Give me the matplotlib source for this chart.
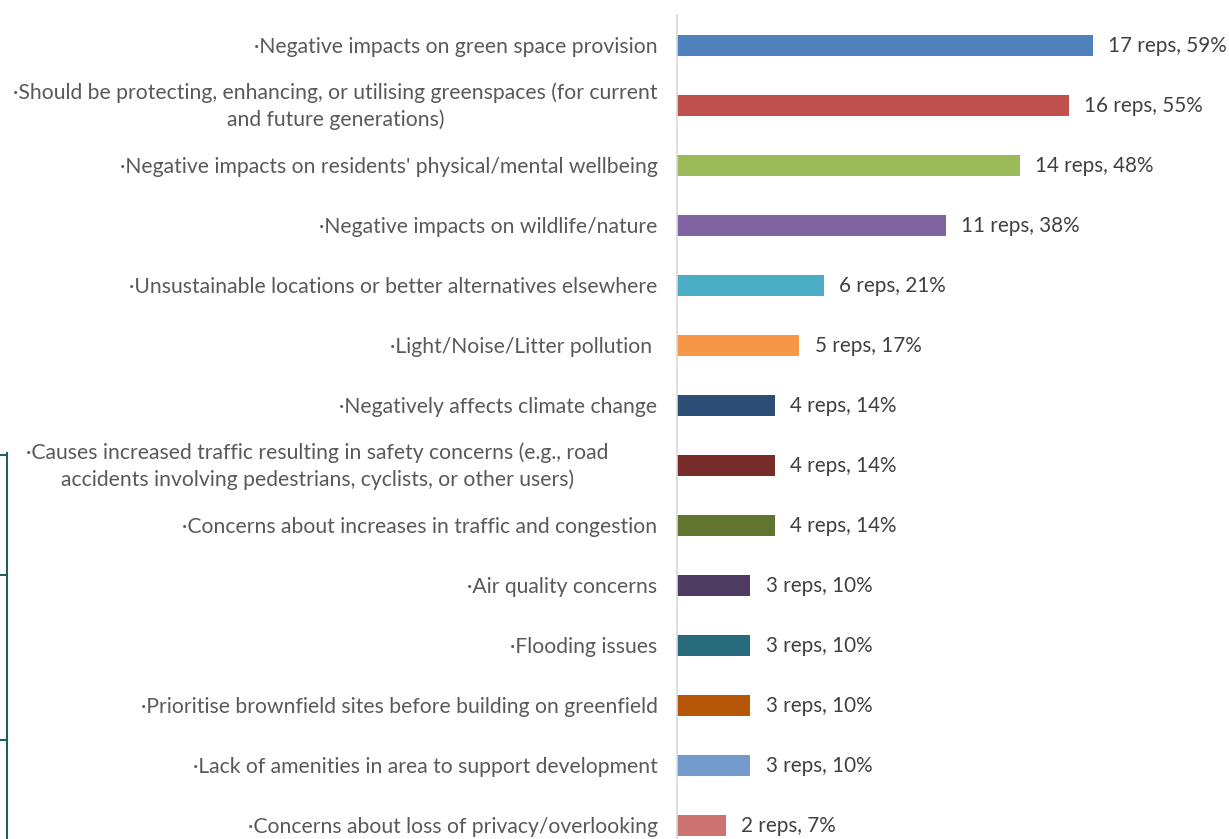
import matplotlib
matplotlib.use("Agg")
import matplotlib.pyplot as plt
from matplotlib.transforms import ScaledTranslation
from matplotlib.lines import Line2D

plt.rcParams['font.family'] = ['Lato', 'DejaVu Sans']

categories = [
    "·Negative impacts on green space provision",
    "·Should be protecting, enhancing, or utilising greenspaces (for current\nand future generations)",
    "·Negative impacts on residents' physical/mental wellbeing",
    "·Negative impacts on wildlife/nature",
    "·Unsustainable locations or better alternatives elsewhere",
    "·Light/Noise/Litter pollution ",
    "·Negatively affects climate change",
    "·Causes increased traffic resulting in safety concerns (e.g., road\naccidents involving pedestrians, cyclists, or other users)",
    "·Concerns about increases in traffic and congestion",
    "·Air quality concerns",
    "·Flooding issues",
    "·Prioritise brownfield sites before building on greenfield",
    "·Lack of amenities in area to support development",
    "·Concerns about loss of privacy/overlooking",
]
reps = [17, 16, 14, 11, 6, 5, 4, 4, 4, 3, 3, 3, 3, 2]
percents = [59, 55, 48, 38, 21, 17, 14, 14, 14, 10, 10, 10, 10, 7]
colors = ["#4F81BD", "#C0504D", "#9BBB59", "#8064A2", "#4BACC6", "#F79646",
          "#2C4D75", "#772C2A", "#5F7530", "#4D3B62", "#276A7C", "#B65708",
          "#729ACA", "#CD7371"]

W, H = 1229, 839
fig = plt.figure(figsize=(W / 100, H / 100), dpi=100)
ax = fig.add_axes([677 / W, 0, 1 - 677 / W, 824 / H])

ypos = list(range(len(categories)))
ax.barh(ypos, reps, height=0.35, color=colors)
ax.set_ylim(len(categories) - 1 + 0.233, -0.5)
ax.set_xlim(0, (W - 677) / 24.47)

fs = 15.2
for y, r, p in zip(ypos, reps, percents):
    ax.annotate(f"{r} reps, {p}%", xy=(r, y), xytext=(11, -1), textcoords="offset points",
                va="center", ha="left", fontsize=14.9, color="#404040")

ax.set_yticks(ypos)
ax.set_yticklabels(categories, fontsize=fs, color="#595959", multialignment="center",
                   linespacing=1.4)
ax.tick_params(axis="y", length=0, pad=14)
ax.set_xticks([])
for s in ["top", "right", "bottom"]:
    ax.spines[s].set_visible(False)
ax.spines["left"].set_color("#D9D9D9")
ax.spines["left"].set_linewidth(1.2)

for lab in ax.get_yticklabels():
    txt = lab.get_text()
    dx = -0.49 if txt.startswith("·Causes") else 0.0
    dy = 0.04 if "\n" in txt else 0.0
    if dx or dy:
        lab.set_transform(lab.get_transform() + ScaledTranslation(dx, dy, fig.dpi_scale_trans))

# decorative frame at left edge
c = "#1F5F60"
fig.add_artist(Line2D([7 / W, 7 / W], [0, 1 - 453 / H], color=c, lw=1.5, transform=fig.transFigure))
for yy in [455, 575, 740]:
    fig.add_artist(Line2D([0, 7 / W], [1 - yy / H] * 2, color=c, lw=1.5, transform=fig.transFigure))

fig.savefig("out.png", dpi=100, facecolor="white")
